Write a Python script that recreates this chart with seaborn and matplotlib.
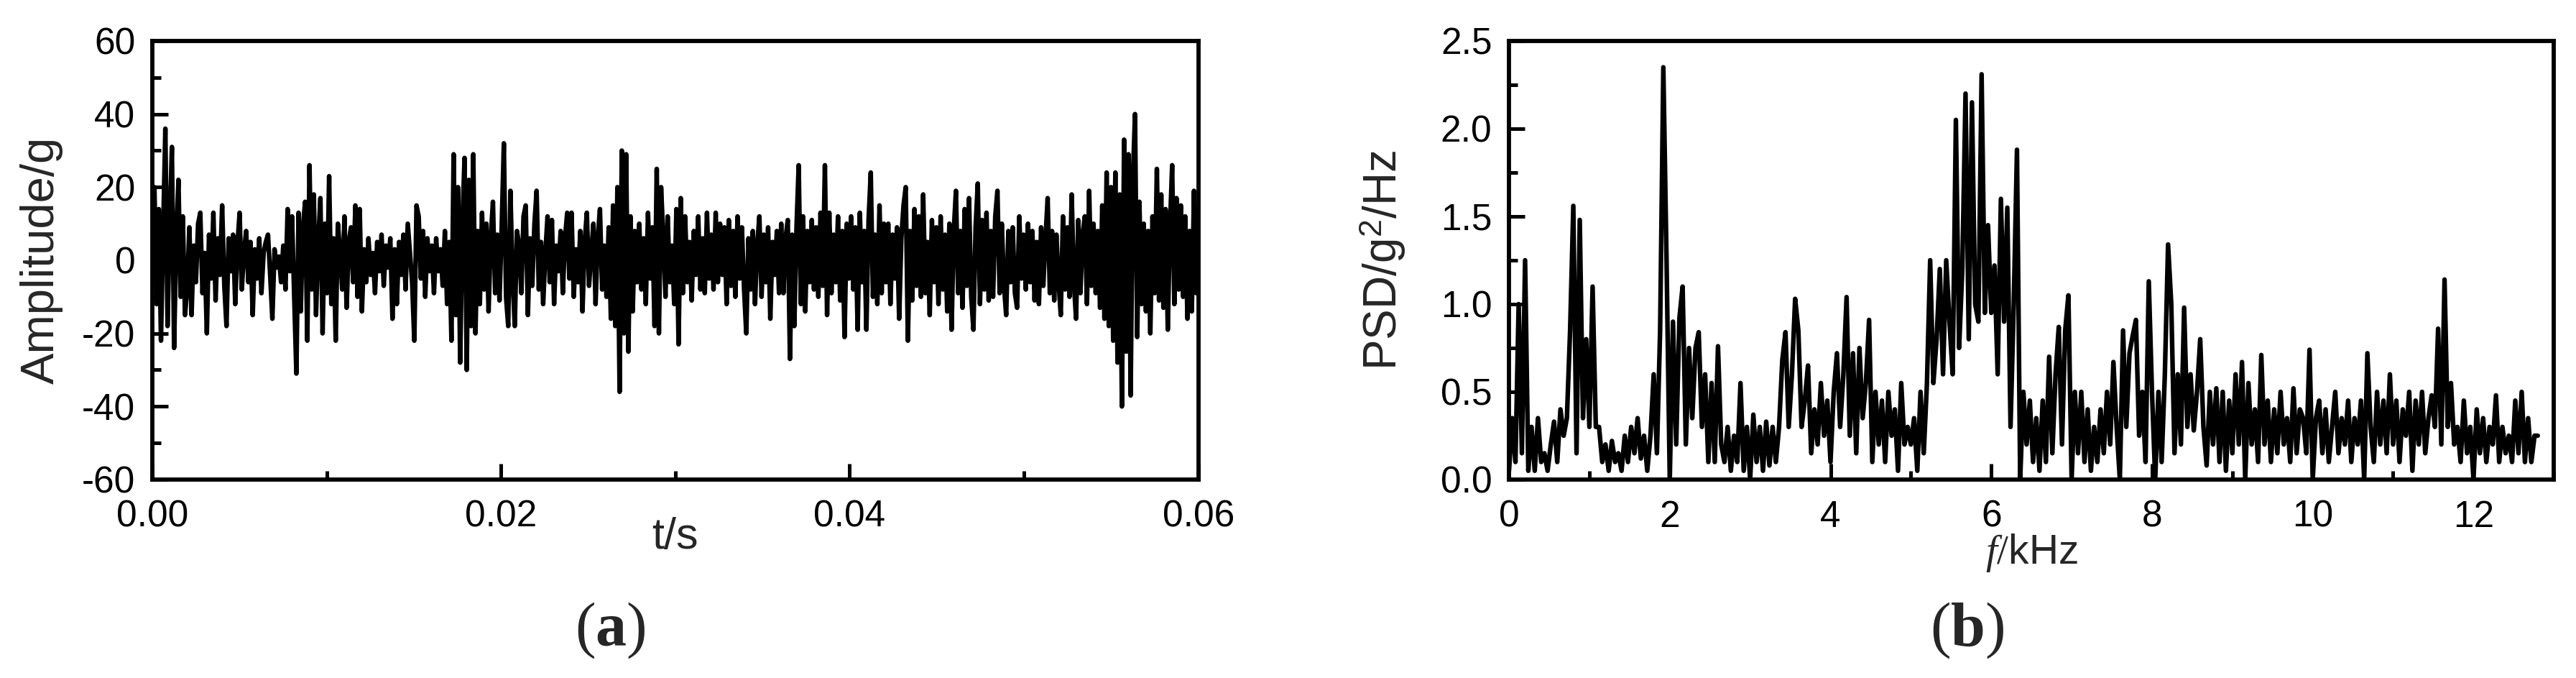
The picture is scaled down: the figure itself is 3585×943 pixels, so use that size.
import numpy as np
import pandas as pd
import seaborn as sns
import matplotlib
matplotlib.use("Agg")
import matplotlib.pyplot as plt
from matplotlib.ticker import MultipleLocator, FormatStrFormatter

# ---------------- data ----------------
# (a) acceleration time history, 0 .. 0.06 s, values in g
amplitude_g = [
    5, 20, -12, 14, -22, 8, 36, -18, 10, 31, -24, 6, 22, -10, 12, -15,
    -8, 9, -15, 4, -6, 10, 13, -9, 2, -20, 7, -5, 13, -11, 6, -4,
    15, -7, -18, 6, -3, 7, -12, 4, 13, -8, 2, 8, -6, 5, -15, 3,
    -5, 6, -9, 2, 5, 7, -4, -16, 3, -2, 1, -6, 4, -8, 14, -3,
    12, -10, -31, 13, -14, 9, 16, -22, 26, -8, 18, -15, 5, 17, -20, 10,
    -9, 23, -12, 6, -22, 10, 2, -8, 12, -13, 5, 9, -6, 15, -10, 14,
    -14, 3, -6, 6, -4, 2, -9, 5, -3, 7, -7, 4, -2, 6, -16, 3,
    -12, 5, -4, 7, -8, 10, 2, -6, -22, 15, 12, -5, 8, -10, 6, -3,
    4, -9, 6, -3, 3, -7, 8, -12, 5, -22, 29, -15, 20, -28, 10, 28,
    -30, 22, -18, 29, -20, 8, -12, 13, -8, 10, -14, 6, 16, -9, 7, -11,
    9, 32, -10, -18, 19, -5, -18, 8, 4, -9, 12, 15, -15, 6, -7, 10,
    19, -8, 5, -12, 2, 12, -6, 11, -12, 4, -3, 8, -9, 6, 13, -5,
    13, -10, 3, -6, 8, -14, 5, 13, -7, 2, 10, -12, 6, 14, -8, 4,
    -10, 9, -16, 15, -18, 20, -36, 30, -20, 29, -25, 12, -14, 8, -6, 10,
    -8, 6, -12, 13, -5, 9, -18, 25, -20, 20, 6, -10, 12, -6, 4, -12,
    14, -23, 17, -9, 12, -6, 5, -11, 8, -4, 12, -8, 6, -9, 13, -5,
    7, -8, 13, -6, 10, -4, 9, -12, 11, -7, 8, -10, 12, -5, 9, -8,
    -20, 6, -8, 8, -12, 4, 12, -10, 7, -6, 9, -16, 5, -4, 8, -9,
    10, -9, 6, 11, -27, 7, -18, 9, 26, -12, 12, -14, 8, -6, 11, -8,
    9, -10, 13, -7, 26, -15, 13, -9, 7, -6, 12, -11, 8, -21, 10, -5,
    12, -8, 9, -19, 13, -6, 8, -19, 11, 24, -10, 7, -12, 15, -9, 10,
    -6, 10, -12, 7, -5, 9, -16, 6, 15, 20, -22, 8, -11, 14, -7, 12,
    -10, 18, -9, 5, -15, 11, -6, 9, -12, 12, -8, 7, -14, 10, -19, 8,
    19, -9, 8, -13, 14, -7, 17, -10, -19, 9, 21, -12, 11, -8, 13, -11,
    8, -10, 12, 19, -9, 10, -7, -15, 8, -6, 9, -9, -13, 12, -5, 7,
    -8, 10, -6, 8, -11, 5, -12, 9, -7, 6, 17, -9, 8, -11, 7, -6,
    -15, 12, -8, 9, -10, 18, -6, -16, 11, -9, 7, 12, -12, 19, -7, 10,
    -9, 8, -13, 15, -16, 24, -18, 20, -22, 24, -28, 18, -40, 33, -25, 29,
    -37, 22, 40, -21, 16, -12, 10, -14, 8, -20, 12, -9, 25, -11, 18, -13,
    14, -19, 9, 26, -12, 17, -8, 15, -10, 12, -16, 8, -14, 19, -9, 14,
]
t_end_s = 0.06

# (b) power spectral density, 0 .. 12.8 kHz, g^2/Hz
psd_g2_hz = [
    0.05, 0.35, 0.1, 1.0, 0.15, 1.25, 0.05, 0.3, 0.05, 0.35, 0.1, 0.15, 0.05, 0.2, 0.33, 0.1, 0.4, 0.25, 0.35, 0.85, 1.56, 0.15, 1.48, 0.35, 0.8,
    0.3, 1.1, 0.3, 0.3, 0.1, 0.2, 0.05, 0.22, 0.1, 0.15, 0.05, 0.25, 0.1, 0.3, 0.15, 0.35, 0.12, 0.25, 0.05, 0.25, 0.6, 0.15, 0.85, 2.35, 1.25,
    0.0, 0.9, 0.2, 0.92, 1.1, 0.2, 0.75, 0.35, 0.75, 0.84, 0.3, 0.6, 0.1, 0.55, 0.1, 0.76, 0.2, 0.1, 0.3, 0.05, 0.25, 0.1, 0.55, 0.05, 0.3,
    0.0, 0.37, 0.1, 0.3, 0.05, 0.33, 0.08, 0.3, 0.1, 0.3, 0.68, 0.84, 0.3, 0.6, 1.03, 0.85, 0.3, 0.45, 0.65, 0.15, 0.4, 0.2, 0.55, 0.25, 0.45,
    0.1, 0.5, 0.72, 0.3, 0.6, 1.04, 0.25, 0.72, 0.15, 0.75, 0.35, 0.55, 0.91, 0.1, 0.5, 0.2, 0.45, 0.1, 0.5, 0.25, 0.4, 0.05, 0.55, 0.2, 0.3,
    0.2, 0.35, 0.05, 0.5, 0.15, 0.55, 1.25, 0.55, 0.8, 1.2, 0.6, 1.25, 0.9, 0.6, 2.05, 0.75, 1.2, 2.2, 0.8, 2.15, 1.0, 0.9, 2.31, 0.95, 1.45,
    0.95, 1.22, 0.6, 1.6, 0.9, 1.55, 0.3, 1.0, 1.88, 0.0, 0.5, 0.2, 0.45, 0.1, 0.35, 0.05, 0.45, 0.1, 0.7, 0.15, 0.6, 0.87, 0.2, 0.85, 1.05,
    0.0, 0.5, 0.15, 0.5, 0.1, 0.4, 0.05, 0.3, 0.1, 0.4, 0.15, 0.5, 0.2, 0.67, 0.3, 0.0, 0.85, 0.3, 0.72, 0.82, 0.91, 0.25, 0.5, 0.1, 1.13,
    0.5, 0.0, 0.5, 0.1, 0.6, 1.34, 1.0, 0.15, 0.6, 0.2, 0.98, 0.3, 0.6, 0.28, 0.5, 0.8, 0.3, 0.08, 0.5, 0.2, 0.52, 0.1, 0.5, 0.05, 0.45,
    0.15, 0.6, 0.2, 0.67, 0.0, 0.55, 0.2, 0.4, 0.1, 0.71, 0.2, 0.45, 0.1, 0.4, 0.15, 0.5, 0.2, 0.35, 0.1, 0.52, 0.15, 0.4, 0.35, 0.15, 0.74,
    0.0, 0.35, 0.45, 0.15, 0.4, 0.1, 0.3, 0.5, 0.15, 0.35, 0.2, 0.45, 0.1, 0.35, 0.2, 0.45, 0.0, 0.72, 0.3, 0.1, 0.5, 0.2, 0.45, 0.15, 0.6,
    0.2, 0.45, 0.1, 0.4, 0.25, 0.5, 0.05, 0.45, 0.2, 0.5, 0.15, 0.35, 0.48, 0.3, 0.86, 0.2, 1.14, 0.3, 0.55, 0.2, 0.3, 0.1, 0.45, 0.15, 0.3,
    0.0, 0.4, 0.15, 0.35, 0.1, 0.3, 0.2, 0.48, 0.1, 0.3, 0.15, 0.25, 0.1, 0.45, 0.15, 0.5, 0.1, 0.35, 0.1, 0.25, 0.25,
]
f_end_khz = 12.8

x_ticks_a = [0.00, 0.02, 0.04, 0.06]
y_ticks_a = [-60, -40, -20, 0, 20, 40, 60]
x_ticks_b = [0, 2, 4, 6, 8, 10, 12]
y_ticks_b = [0.0, 0.5, 1.0, 1.5, 2.0, 2.5]

df_a = pd.DataFrame({"t": np.linspace(0, t_end_s, len(amplitude_g)), "a": amplitude_g})
df_b = pd.DataFrame({"f": np.linspace(0, f_end_khz, len(psd_g2_hz)), "p": psd_g2_hz})

# ---------------- style ----------------
sns.set_theme(style="ticks")
plt.rcParams.update({
    "font.family": ["Liberation Sans", "DejaVu Sans"],
    "axes.unicode_minus": False,
    "mathtext.fontset": "custom",
    "mathtext.rm": "Liberation Serif",
    "mathtext.it": "Liberation Serif:italic",
    "mathtext.bf": "Liberation Serif:bold",
    "mathtext.sf": "Liberation Sans",
    "axes.edgecolor": "black",
    "axes.linewidth": 4.2,
    "xtick.color": "black",
    "ytick.color": "black",
})

fig = plt.figure(figsize=(35.85, 9.43), dpi=100)
axA = fig.add_axes([0.0591, 0.2927, 0.4061, 0.6469])
axB = fig.add_axes([0.5858, 0.2927, 0.4056, 0.6469])

sns.lineplot(data=df_a, x="t", y="a", ax=axA, color="black", linewidth=4.6,
             estimator=None, sort=False, errorbar=None)
sns.lineplot(data=df_b, x="f", y="p", ax=axB, color="black", linewidth=4.6,
             estimator=None, sort=False, errorbar=None)

for ax in (axA, axB):
    for s in ax.spines.values():
        s.set_visible(True)
        s.set_linewidth(4.2)
        s.set_color("black")
    ax.tick_params(which="both", direction="in", top=False, right=False,
                   width=3.6, colors="black", labelsize=37)
    ax.tick_params(which="major", length=15.5)
    ax.tick_params(which="minor", length=8.5)
    ax.tick_params(axis="x", pad=20)
    ax.tick_params(axis="y", pad=17)
    ax.grid(False)

# panel (a)
axA.set_xlim(0, 0.06)
axA.set_ylim(-60, 60)
axA.set_xticks(x_ticks_a)
axA.set_yticks(y_ticks_a)
axA.xaxis.set_minor_locator(MultipleLocator(0.01))
axA.yaxis.set_minor_locator(MultipleLocator(10))
axA.xaxis.set_major_formatter(FormatStrFormatter("%.2f"))
axA.yaxis.set_major_formatter(FormatStrFormatter("%d"))
axA.tick_params(axis="y", labelfontfamily=["Liberation Sans Narrow", "Liberation Sans"])
axA.set_xlabel("t/s", fontsize=44, va="top")
axA.set_ylabel("Amplitude/g", fontsize=47)
axA.xaxis.set_label_coords(0.5, -0.085)
axA.yaxis.set_label_coords(-0.085, 0.5)

# panel (b)
axB.set_xlim(0, 13)
axB.set_ylim(0, 2.5)
axB.set_xticks(x_ticks_b)
axB.set_yticks(y_ticks_b)
axB.xaxis.set_minor_locator(MultipleLocator(1))
axB.yaxis.set_minor_locator(MultipleLocator(0.25))
axB.xaxis.set_major_formatter(FormatStrFormatter("%d"))
axB.yaxis.set_major_formatter(FormatStrFormatter("%.1f"))
axB.set_xlabel(r"$\mathit{f/}$kHz", fontsize=41, va="top")
axB.set_ylabel(r"PSD/g$^{\mathsf{2}}$/Hz", fontsize=46)
axB.xaxis.set_label_coords(0.5, -0.12)
axB.yaxis.set_label_coords(-0.097, 0.5)

fig.text(0.237, 0.070, r"$\mathrm{(}\mathbf{a}\mathrm{)}$", ha="center", va="center", fontsize=62)
fig.text(0.7637, 0.070, r"$\mathrm{(}\mathbf{b}\mathrm{)}$", ha="center", va="center", fontsize=62)

fig.savefig("out.png", dpi=100, facecolor="white")
